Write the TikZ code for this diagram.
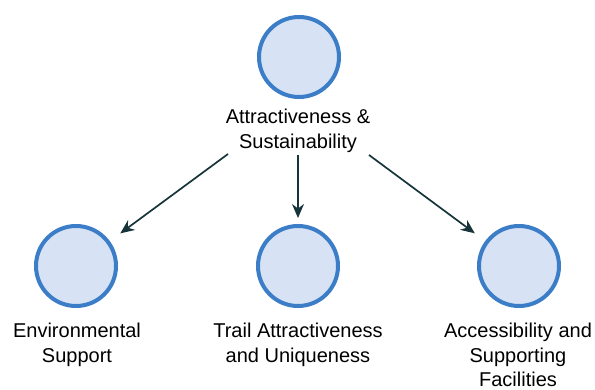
\documentclass[tikz,border=0pt]{standalone}
\usepackage{fontspec}
\setmainfont{Liberation Sans}
\usetikzlibrary{arrows.meta}
\definecolor{ringblue}{HTML}{3C7DC8}
\definecolor{fillblue}{HTML}{D7E3F5}
\definecolor{arrowdark}{HTML}{17343B}
\tikzset{
  circ/.style={circle, draw=ringblue, fill=fillblue, line width=4pt, minimum size=80pt, inner sep=0pt},
  lbl/.style={align=center, anchor=north, inner sep=0pt, font=\fontsize{20}{24.5}\selectfont, text=black},
  arr/.style={draw=arrowdark, line width=1.7pt, -{Stealth[length=14pt,width=12pt]}}
}
\begin{document}
\begin{tikzpicture}[x=1pt,y=-1pt]
\useasboundingbox (0,0) rectangle (595,390);
\node[circ] (top) at (299,57) {};
\node[lbl] (toptext) at (298,109) {Attractiveness \&\\Sustainability};
\node[circ] (c1) at (76,266) {};
\node[circ] (c2) at (298,266) {};
\node[circ] (c3) at (519,266) {};
\node[lbl] (t1) at (77,323) {Environmental\\Support};
\node[lbl] (t2) at (298,323) {Trail Attractiveness\\and Uniqueness};
\node[lbl] (t3) at (518,323) {Accessibility and\\Supporting\\Facilities};
\coordinate (s1) at (228,154);
\coordinate (s2) at (298,155);
\coordinate (s3) at (369,155);
\draw[arr, shorten >=13pt] (s1) -- (c1);
\draw[arr, shorten >=6pt] (s2) -- (c2);
\draw[arr, shorten >=13pt] (s3) -- (c3);
\end{tikzpicture}
\end{document}
